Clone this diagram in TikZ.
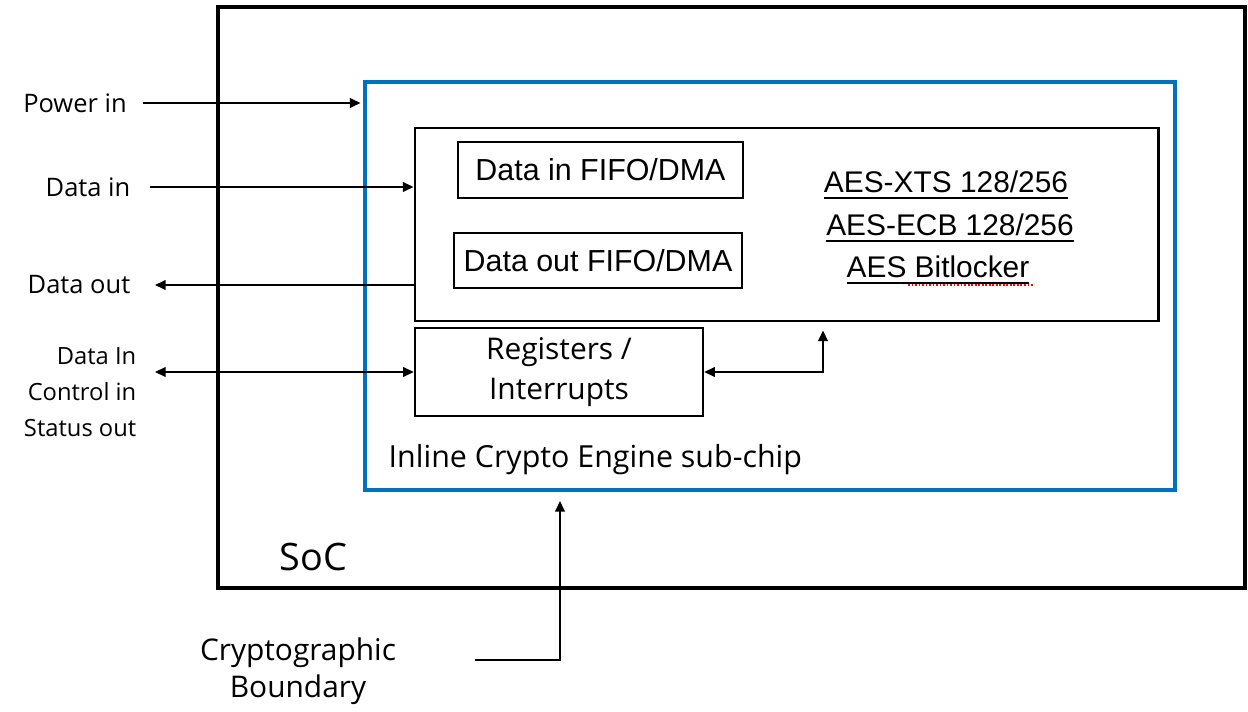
\documentclass[tikz,border=0pt]{standalone}
\usepackage{fontspec}
\setmainfont{Open Sans}
\newfontfamily\arialfont{Liberation Sans}
\usetikzlibrary{arrows.meta}
\definecolor{iceblue}{RGB}{0,112,192}
\newcommand\aesline[1]{\setbox0\hbox{#1}\rlap{\rule[-3.5pt]{\wd0}{1.2pt}}\box0}

\begin{document}
\begin{tikzpicture}[>={Triangle[length=6pt,width=5.5pt]},line width=0.85pt,
      box/.style={draw, line width=1.4pt, inner sep=0pt,
        font=\arialfont\fontsize{17.3}{21}\selectfont},
      lbl/.style={inner sep=0pt, font=\fontsize{14.5}{20.5}\selectfont},
      aestxt/.style={inner sep=0pt, font=\arialfont\fontsize{17}{21}\selectfont}]
    \useasboundingbox (0,0) rectangle (24.96,14.22);
    \node[draw, line width=2.8pt, minimum width=20.54cm, minimum height=11.62cm] (soc) at (14.63,8.27) {};
    \node[draw=iceblue, line width=2.3pt, minimum width=16.2cm, minimum height=8.16cm] (ice) at (15.4,8.5) {};
    \node[draw, line width=1.7pt, minimum width=14.86cm, minimum height=3.86cm] (aes) at (15.73,9.73) {};
    \node[box, minimum width=5.7cm, minimum height=1.12cm] (fin) at (12.01,10.82) {Data in FIFO/DMA};
    \node[box, minimum width=5.76cm, minimum height=1.1cm] (fout) at (11.96,9.01) {Data out FIFO/DMA};
    \node[box, minimum width=5.76cm, minimum height=1.76cm, align=center,
      font=\fontsize{17}{22.5}\selectfont] (regs) at (11.18,6.78) {Registers /\\Interrupts};
    \node[aestxt] (xts) at (18.92,10.52) {\aesline{AES-XTS 128/256}};
    \node[aestxt] (ecb) at (19.0,9.66) {\aesline{AES-ECB 128/256}};
    \node[aestxt] (bitl) at (18.76,8.82) {\aesline{AES Bitlocker}};
    \draw[red, densely dotted, line width=1pt] (18.16,8.52) -- (20.66,8.52);

    \node[lbl] (pwr) at (1.5,12.16) {Power in};
    \node[lbl] (din) at (1.76,10.48) {Data in};
    \node[lbl] (dout) at (1.58,8.52) {Data out};
    \node[lbl, align=right, anchor=east, font=\fontsize{13.5}{20.5}\selectfont] (ctl) at (2.74,6.37) {Data In\\Control in\\Status out};
    \node[lbl, anchor=west, font=\fontsize{17.3}{20}\selectfont] (icename) at (7.76,5.02) {Inline Crypto Engine sub-chip};
    \node[lbl, font=\fontsize{21.5}{24}\selectfont] (soclbl) at (6.27,3.08) {SoC};
    \node[lbl, align=center, font=\fontsize{17}{21}\selectfont] (cbnd) at (5.96,0.79) {Cryptographic\\Boundary};
    \coordinate (bfoot) at (9.5,1.02);

    \draw[->, shorten <=0.32cm, shorten >=0.05cm] (pwr) -- (pwr -| ice.west);
    \draw[->, shorten <=0.38cm] (din) -- (din -| aes.west);
    \draw[->, shorten >=0.48cm] (dout -| aes.west) -- (dout);
    \draw[<->, shorten <=0.36cm] (ctl.east |- regs) -- (regs.west);
    \draw[<->, shorten >=0.16cm] (regs.east) -| ([xshift=0.73cm]aes.south);
    \draw[->, shorten >=0.18cm] (bfoot) -| ([xshift=-4.2cm]ice.south);
  \end{tikzpicture}
\end{document}
